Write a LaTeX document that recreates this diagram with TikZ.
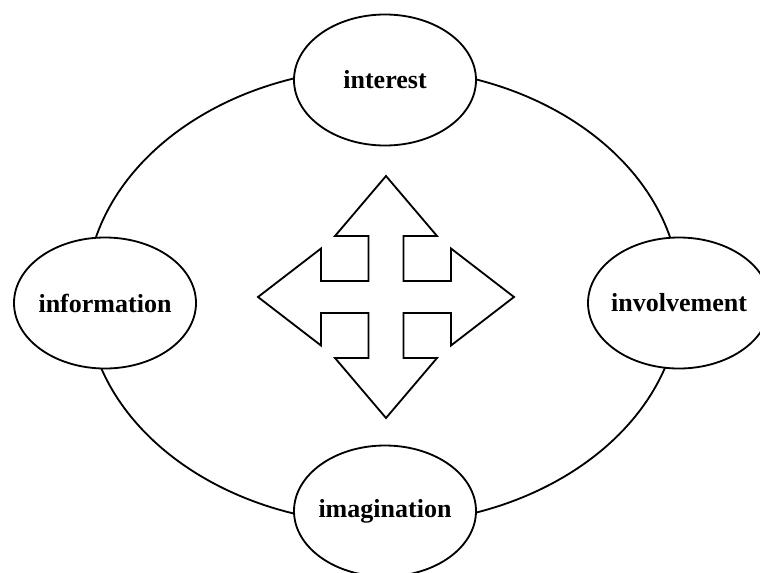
\documentclass[tikz,border=0pt]{standalone}
\usepackage{fontspec}
\setmainfont{Liberation Serif}
\usepackage{tikz}

\tikzset{
  stagetext/.style={font=\fontsize{18.5}{22}\selectfont\bfseries, inner sep=0pt}
}

\begin{document}
\begin{tikzpicture}[x=0.025cm, y=-0.025cm, line width=1.3pt]
  \useasboundingbox (0, 0) rectangle (760, 572);

  % the ring behind the four stages
  \draw (383, 296) ellipse [x radius=297, y radius=228];

  \foreach \x/\y/\word in {385/80/interest, 105/303/information,
                            679/303/involvement, 385/511/imagination} {
    \draw [fill=white] (\x, \y) ellipse [x radius=91, y radius=65.5];
    \node [stagetext] (\word) at (\x, \y) {\word};
  }

  % four-way arrow in the middle
  \begin{scope}[shift={(386, 297)}]
    \draw [line join=miter]
      (0, -121) -- (51, -61) -- (17.5, -61) -- (17.5, -16) -- (65, -16)
      -- (65, -48.5) -- (128, 0) -- (65, 48.5) -- (65, 16) -- (17.5, 16)
      -- (17.5, 61) -- (51, 61) -- (0, 121) -- (-51, 61) -- (-17.5, 61)
      -- (-17.5, 16) -- (-65, 16) -- (-65, 48.5) -- (-128, 0)
      -- (-65, -48.5) -- (-65, -16) -- (-17.5, -16) -- (-17.5, -61)
      -- (-51, -61) -- cycle;
  \end{scope}

\end{tikzpicture}
\end{document}
